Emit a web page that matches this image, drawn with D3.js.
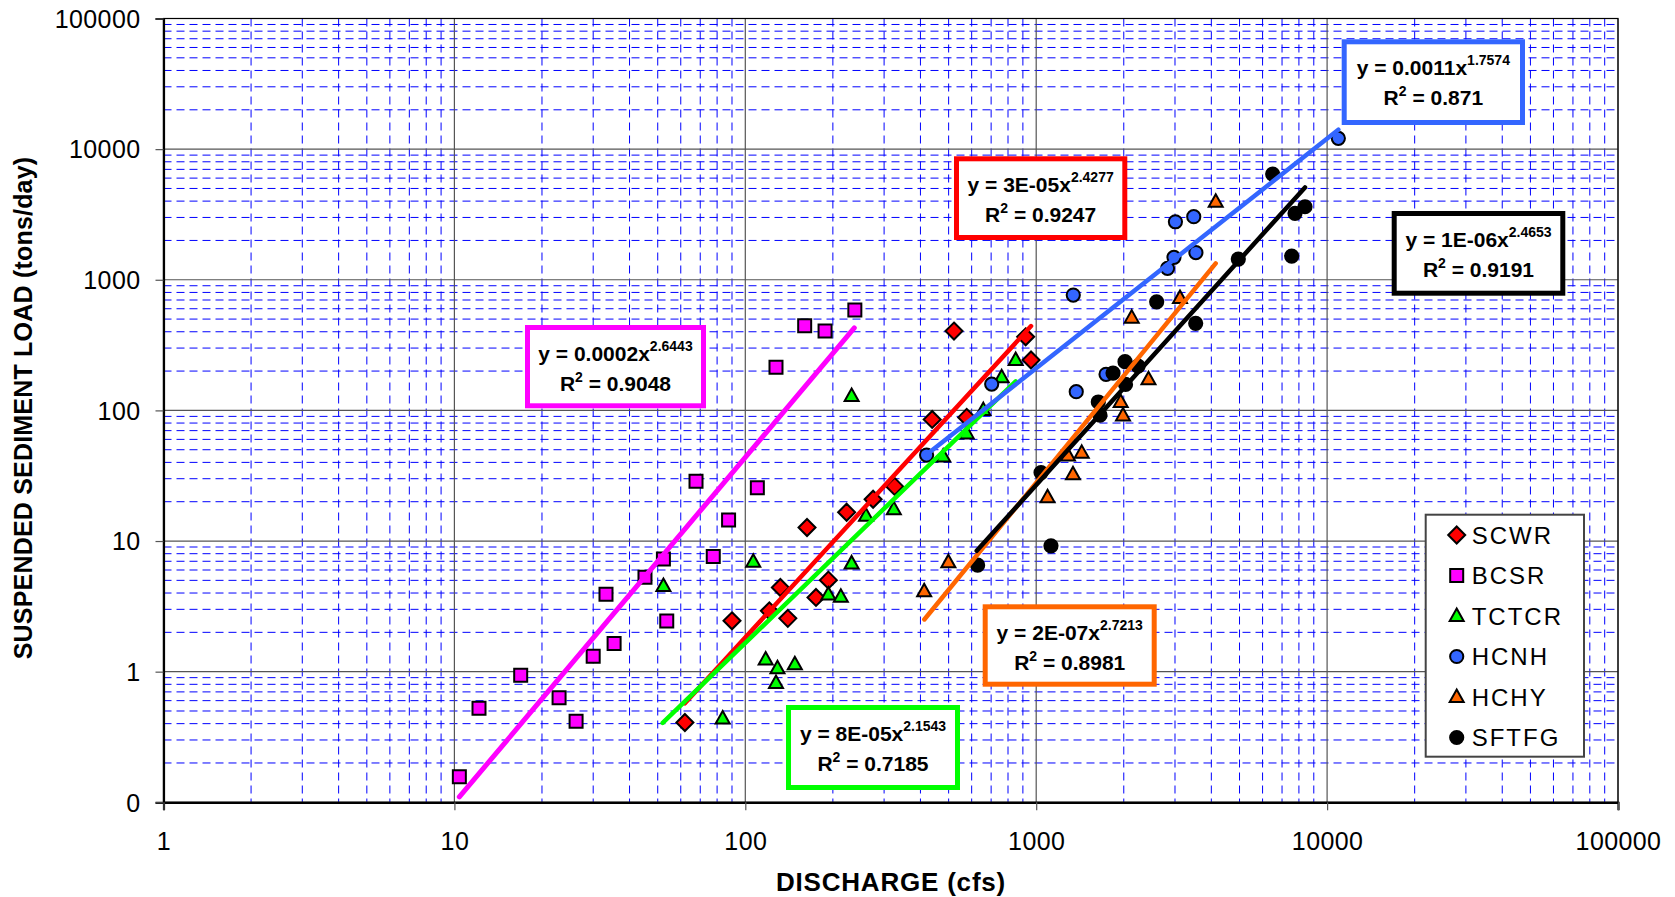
<!DOCTYPE html>
<html><head><meta charset="utf-8">
<script src="https://cdn.jsdelivr.net/npm/d3@7"></script>
<style>
body{margin:0;background:#fff;}
svg{display:block;font-family:Arial,"Liberation Sans",sans-serif;}
</style>
</head><body>
<svg id="chart" width="1675" height="897"></svg>
<script>
// ---------------- DATA ----------------
const seriesNames = ["SCWR","BCSR","TCTCR","HCNH","HCHY","SFTFG"];

// [discharge (cfs), suspended sediment load (tons/day)]
const SCWR = [[521.7,404.8],[920,366],[960,243],[439,85.3],[577,88.4],[326,26.2],[275,20.9],[223,16.6],
  [163,12.7],[132,4.41],[193,5.02],[175,3.70],[121,2.92],[140,2.56],[90,2.45],[62,0.408]];
const BCSR = [[160,444],[188,405],[127.5,214],[238,588],[67.7,28.7],[110,25.6],[87.6,14.5],[52.3,7.27],
  [77.6,7.6],[45.2,5.29],[33.2,3.92],[53.7,2.44],[35.4,1.64],[30,1.31],[26.2,0.418],[22.9,0.632],
  [16.9,0.94],[12.15,0.525],[10.4,0.157]];
const TCTCR = [[232,129],[850,243],[761,179],[658,100.5],[577,66.7],[479,44.3],[324,17.5],[260,15.6],
  [106.5,6.93],[232,6.74],[52.3,4.52],[193,3.90],[213,3.74],[117.5,1.24],[129,1.06],[148,1.14],
  [127.5,0.82],[83.6,0.438]];
const HCNH = [[10930,12090],[3010,2780],[3480,3040],[2976,1484],[2828,1223],[3540,1616],[1341,764],
  [703,159],[1738,189],[1373,139],[420,45.5]];
const HCHY = [[4141,3956],[3121,724],[2130,513],[2432,173],[1952,116],[1988,91.3],[1286,45.1],
  [1434,47.3],[1338,32.4],[1094,21.6],[499,6.89],[412,4.13]];
const SFTFG = [[6500,6446],[8395,3622],[7757,3224],[7555,1519],[4952,1440],[2595,678],[3534,464],
  [2020,236],[1837,193],[2239,218],[2028,158],[1635,116],[1657,92],[1039,33.4],[1124,9.19],[629,6.54]];

// power-law trend lines: [start point], [end point]
const trendSCWR  = [[62,0.573],[960,442]];
const trendBCSR  = [[10.4,0.110],[237,428]];
const trendTCTCR = [[52,0.405],[850,167]];
const trendHCNH  = [[422.5,46.3],[10930,14080]];
const trendHCHY  = [[412.5,2.51],[4141,1335]];
const trendSFTFG = [[624.5,8.41],[8395,5093]];

// equation labels
const eqCoef = ["3E-05","0.0002","8E-05","0.0011","2E-07","1E-06"];
const eqExp  = ["2.4277","2.6443","2.1543","1.7574","2.7213","2.4653"];
const eqR2   = ["0.9247","0.9048","0.7185","0.871","0.8981","0.9191"];

const xTickValues = [1,10,100,1000,10000,100000];
const xTickLabels = ["1","10","100","1000","10000","100000"];
const yTickValues = [0.1,1,10,100,1000,10000,100000];
const yTickLabels = ["0","1","10","100","1000","10000","100000"];

const xTitle = "DISCHARGE (cfs)";
const yTitle = "SUSPENDED SEDIMENT LOAD (tons/day)";

// ---------------- STYLE / LAYOUT ----------------
const pointsBySeries = [SCWR,BCSR,TCTCR,HCNH,HCHY,SFTFG];
const trendsBySeries = [trendSCWR,trendBCSR,trendTCTCR,trendHCNH,trendHCHY,trendSFTFG];
const style = [
  {shape:"diamond", fill:"#FF0000", line:"#FF0000"},
  {shape:"square",  fill:"#FF00FF", line:"#FF00FF"},
  {shape:"triangle",fill:"#00FF00", line:"#00FF00"},
  {shape:"circle",  fill:"#3366FF", line:"#3366FF"},
  {shape:"triangle",fill:"#FF6600", line:"#FF6600"},
  {shape:"circle",  fill:"#000000", line:"#000000"}
];
// annotation box outer rectangles [x0,y0,x1,y1]
const boxLayout = [
  [954,156.3,1127.3,240],
  [525,325,706,408.3],
  [786,705,960,790],
  [1341.7,39.3,1525,125],
  [982.7,604.3,1156.7,686.7],
  [1391.7,211,1565.3,295.7]
];

const L = 163.5, R = 1618, T = 18.5, B = 802.3;
const svg = d3.select("#chart");
const x = d3.scaleLog().domain([1,100000]).range([L,R]);
const y = d3.scaleLog().domain([0.1,100000]).range([B,T]);

// minor grid
const minorX = [], minorY = [];
for (let e=0;e<5;e++) for (let k=2;k<=9;k++) minorX.push(k*Math.pow(10,e));
for (let e=-1;e<5;e++) for (let k=2;k<=9;k++) minorY.push(k*Math.pow(10,e));

const grid = svg.append("g");
grid.selectAll(".mx").data(minorX).join("line")
  .attr("x1",d=>x(d)).attr("x2",d=>x(d)).attr("y1",T).attr("y2",B)
  .attr("stroke","#0000FF").attr("stroke-width",1).attr("stroke-dasharray","8,5");
grid.selectAll(".my").data(minorY).join("line")
  .attr("y1",d=>y(d)).attr("y2",d=>y(d)).attr("x1",L).attr("x2",R)
  .attr("stroke","#0000FF").attr("stroke-width",1).attr("stroke-dasharray","8,5");
grid.selectAll(".Mx").data(xTickValues).join("line")
  .attr("x1",d=>x(d)).attr("x2",d=>x(d)).attr("y1",T).attr("y2",B)
  .attr("stroke","#555").attr("stroke-width",1.2);
grid.selectAll(".My").data(yTickValues).join("line")
  .attr("y1",d=>y(d)).attr("y2",d=>y(d)).attr("x1",L).attr("x2",R)
  .attr("stroke","#555").attr("stroke-width",1.2);
// border
svg.append("rect").attr("x",L).attr("y",T).attr("width",R-L).attr("height",B-T)
  .attr("fill","none").attr("stroke","#000").attr("stroke-width",1.2);

// axes
const yAxis = d3.axisLeft(y).tickValues(yTickValues).tickFormat((d,i)=>yTickLabels[i]).tickSize(8).tickPadding(15);
const gy = svg.append("g").attr("transform",`translate(${L},0)`).call(yAxis);
const xAxis = d3.axisBottom(x).tickValues(xTickValues).tickFormat((d,i)=>xTickLabels[i]).tickSize(8).tickPadding(22);
const gx = svg.append("g").attr("transform",`translate(0,${B})`).call(xAxis);
[gx,gy].forEach(g=>{
  g.select(".domain").attr("stroke","#000").attr("stroke-width",2.2);
  g.selectAll(".tick line").attr("stroke","#555").attr("stroke-width",1.2);
  g.selectAll(".tick text").attr("font-size",25).attr("fill","#000")
    .attr("font-family",'Arial,"Liberation Sans",sans-serif').attr("letter-spacing",0.4);
});
gy.selectAll(".tick text").attr("dy","0.35em");

// axis titles
svg.append("text").attr("x",891).attr("y",891).attr("text-anchor","middle")
  .attr("font-size",26).attr("font-weight","bold").attr("letter-spacing",0.8).text(xTitle);
svg.append("text").attr("transform","translate(31.5,408) rotate(-90)").attr("text-anchor","middle")
  .attr("font-size",25).attr("font-weight","bold").attr("letter-spacing",0.2).text(yTitle);

// markers
function markerPath(shape){
  switch(shape){
    case "diamond": return "M0,-8.5L8.5,0L0,8.5L-8.5,0Z";
    case "square": return "M-6.5,-6.5h13v13h-13Z";
    case "triangle": return "M0,-7.5L7,5L-7,5Z";
    default: return d3.symbol(d3.symbolCircle, Math.PI*6.6*6.6)();
  }
}
const marks = svg.append("g");
pointsBySeries.forEach((pts,i)=>{
  marks.append("g").selectAll("path").data(pts).join("path")
    .attr("d",markerPath(style[i].shape))
    .attr("transform",d=>`translate(${x(d[0])},${y(d[1])})`)
    .attr("fill",style[i].fill).attr("stroke","#000").attr("stroke-width",2);
});

// trend lines
const lineGen = d3.line().x(d=>x(d[0])).y(d=>y(d[1]));
const trends = svg.append("g");
trendsBySeries.forEach((tr,i)=>{
  trends.append("path").attr("d",lineGen(tr)).attr("fill","none")
    .attr("stroke",style[i].line).attr("stroke-width",i===1?5:4.5).attr("stroke-linecap","round");
});

// equation boxes
const boxes = svg.append("g");
boxLayout.forEach((b,i)=>{
  const sw = 5;
  boxes.append("rect").attr("x",b[0]+sw/2).attr("y",b[1]+sw/2)
    .attr("width",b[2]-b[0]-sw).attr("height",b[3]-b[1]-sw)
    .attr("fill","#fff").attr("stroke",style[i].line).attr("stroke-width",sw);
  const cx = (b[0]+b[2])/2;
  const t1 = boxes.append("text").attr("x",cx).attr("y",b[1]+36).attr("text-anchor","middle")
    .attr("font-size",21).attr("font-weight","bold");
  t1.append("tspan").text(`y = ${eqCoef[i]}x`);
  t1.append("tspan").attr("dy",-10).attr("font-size",14).text(eqExp[i]);
  const t2 = boxes.append("text").attr("x",cx).attr("y",b[1]+66).attr("text-anchor","middle")
    .attr("font-size",21).attr("font-weight","bold");
  t2.append("tspan").text("R");
  t2.append("tspan").attr("dy",-9).attr("font-size",14).text("2");
  t2.append("tspan").attr("dy",9).text(` = ${eqR2[i]}`);
});

// legend
const lg = svg.append("g");
lg.append("rect").attr("x",1425.7).attr("y",514.7).attr("width",158.3).attr("height",242)
  .attr("fill","#fff").attr("stroke","#444").attr("stroke-width",2);
seriesNames.forEach((n,i)=>{
  const yy = 535 + i*40.5;
  lg.append("path").attr("d",markerPath(style[i].shape))
    .attr("transform",`translate(1456.7,${yy})`)
    .attr("fill",style[i].fill).attr("stroke","#000").attr("stroke-width",2);
  lg.append("text").attr("x",1471.7).attr("y",yy+8.5).attr("font-size",24)
    .attr("letter-spacing",2).text(n);
});
</script>
</body></html>
